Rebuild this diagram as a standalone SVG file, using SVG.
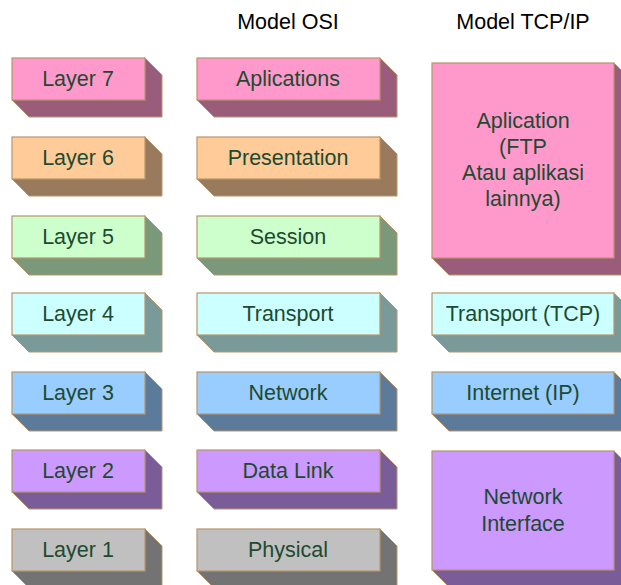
<svg xmlns="http://www.w3.org/2000/svg" width="621" height="585" viewBox="0 0 621 585">
<style>
text{font-family:"Liberation Sans",Arial,sans-serif;font-size:21.5px;text-anchor:middle;dominant-baseline:central}
.t{fill:#1d4a30}
.h{fill:#000}
.f{stroke:#b8956a;stroke-width:1.2}
.s{stroke:#b8956a;stroke-width:1}
.pk .f{fill:#ff99cc}.pk .s{fill:#995c7a}
.or .f{fill:#ffcc99}.or .s{fill:#997a5c}
.gr .f{fill:#ccffcc}.gr .s{fill:#7a997a}
.cy .f{fill:#ccffff}.cy .s{fill:#7a9999}
.bl .f{fill:#99ccff}.bl .s{fill:#5c7a99}
.pu .f{fill:#cc99ff}.pu .s{fill:#7a5c99}
.gy .f{fill:#c0c0c0}.gy .s{fill:#737373}
</style>
<rect width="621" height="585" fill="#fff"/>
<text class="h" x="288" y="22">Model OSI</text>
<text class="h" x="523" y="22">Model TCP/IP</text>

<g id="layer7" class="pk"><polygon class="s" points="145,58 162,75 162,117 29,117 12,100"/><rect class="f" x="12" y="58" width="133" height="42"/><text class="t" x="78" y="79">Layer 7</text></g>
<g id="layer6" class="or"><polygon class="s" points="145,137 162,154 162,196 29,196 12,179"/><rect class="f" x="12" y="137" width="133" height="42"/><text class="t" x="78" y="158">Layer 6</text></g>
<g id="layer5" class="gr"><polygon class="s" points="145,216 162,233 162,275 29,275 12,258"/><rect class="f" x="12" y="216" width="133" height="42"/><text class="t" x="78" y="237">Layer 5</text></g>
<g id="layer4" class="cy"><polygon class="s" points="145,293 162,310 162,352 29,352 12,335"/><rect class="f" x="12" y="293" width="133" height="42"/><text class="t" x="78" y="314">Layer 4</text></g>
<g id="layer3" class="bl"><polygon class="s" points="145,372 162,389 162,431 29,431 12,414"/><rect class="f" x="12" y="372" width="133" height="42"/><text class="t" x="78" y="393">Layer 3</text></g>
<g id="layer2" class="pu"><polygon class="s" points="145,450 162,467 162,509 29,509 12,492"/><rect class="f" x="12" y="450" width="133" height="42"/><text class="t" x="78" y="471">Layer 2</text></g>
<g id="layer1" class="gy"><polygon class="s" points="145,529 162,546 162,588 29,588 12,571"/><rect class="f" x="12" y="529" width="133" height="42"/><text class="t" x="78" y="550">Layer 1</text></g>

<g id="osi7" class="pk"><polygon class="s" points="380,58 397,75 397,117 214,117 197,100"/><rect class="f" x="197" y="58" width="183" height="42"/><text class="t" x="288" y="79">Aplications</text></g>
<g id="osi6" class="or"><polygon class="s" points="380,137 397,154 397,196 214,196 197,179"/><rect class="f" x="197" y="137" width="183" height="42"/><text class="t" x="288" y="158">Presentation</text></g>
<g id="osi5" class="gr"><polygon class="s" points="380,216 397,233 397,275 214,275 197,258"/><rect class="f" x="197" y="216" width="183" height="42"/><text class="t" x="288" y="237">Session</text></g>
<g id="osi4" class="cy"><polygon class="s" points="380,293 397,310 397,352 214,352 197,335"/><rect class="f" x="197" y="293" width="183" height="42"/><text class="t" x="288" y="314">Transport</text></g>
<g id="osi3" class="bl"><polygon class="s" points="380,372 397,389 397,431 214,431 197,414"/><rect class="f" x="197" y="372" width="183" height="42"/><text class="t" x="288" y="393">Network</text></g>
<g id="osi2" class="pu"><polygon class="s" points="380,450 397,467 397,509 214,509 197,492"/><rect class="f" x="197" y="450" width="183" height="42"/><text class="t" x="288" y="471">Data Link</text></g>
<g id="osi1" class="gy"><polygon class="s" points="380,529 397,546 397,588 214,588 197,571"/><rect class="f" x="197" y="529" width="183" height="42"/><text class="t" x="288" y="550">Physical</text></g>

<g id="tcp-app" class="pk"><polygon class="s" points="614,63 631,80 631,275 449,275 432,258"/><rect class="f" x="432" y="63" width="182" height="195"/><text class="t" x="523" y="121">Aplication</text><text class="t" x="523" y="147">(FTP</text><text class="t" x="523" y="173">Atau aplikasi</text><text class="t" x="523" y="199">lainnya)</text></g>
<g id="tcp-transport" class="cy"><polygon class="s" points="614,293 631,310 631,352 449,352 432,335"/><rect class="f" x="432" y="293" width="182" height="42"/><text class="t" x="523" y="314">Transport (TCP)</text></g>
<g id="tcp-internet" class="bl"><polygon class="s" points="614,372 631,389 631,431 449,431 432,414"/><rect class="f" x="432" y="372" width="182" height="42"/><text class="t" x="523" y="393">Internet (IP)</text></g>
<g id="tcp-netif" class="pu"><polygon class="s" points="614,451 631,468 631,587 449,587 432,570"/><rect class="f" x="432" y="451" width="182" height="119"/><text class="t" x="523" y="497">Network</text><text class="t" x="523" y="524">Interface</text></g>
<g id="connectors"/>
</svg>
